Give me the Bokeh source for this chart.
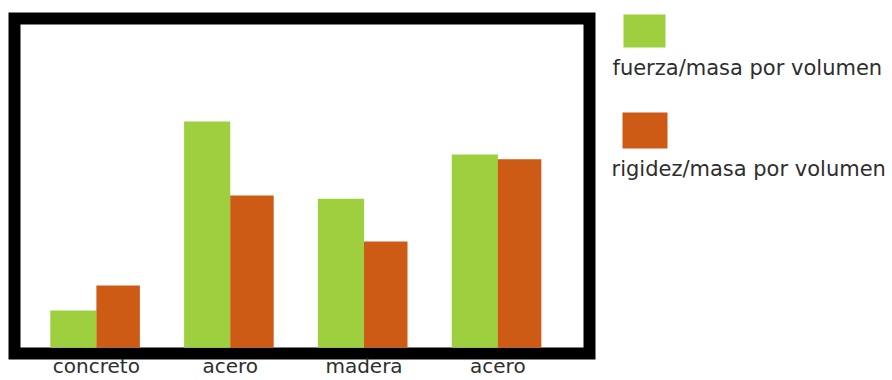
import numpy as np
from bokeh.plotting import figure
from bokeh.models import ColumnDataSource, Range1d, FixedTicker
from bokeh.layouts import row, column
from bokeh.transform import dodge
from bokeh.core.properties import value
from bokeh.embed import file_html
from bokeh.resources import INLINE

categories = ["concreto", "acero", "madera", "acero"]
series_names = ["fuerza/masa por volumen", "rigidez/masa por volumen"]
fuerza = [37.6, 227.6, 150.0, 194.6]
rigidez = [62.6, 153.3, 107.0, 189.6]
colors = ["#9DCF3E", "#CD5B15"]

FONT = "DejaVu Sans"
TEXT_COLOR = "#2e2e2e"

src = ColumnDataSource(dict(x=list(range(len(categories))), fuerza=fuerza, rigidez=rigidez))

x_range = Range1d(-0.612, 3.685)

# main chart with thick black outline around the frame
p = figure(width=600, height=380, x_range=x_range, y_range=Range1d(-5.7, 331.3), title=None,
           output_backend="svg", toolbar_location=None, y_axis_location=None,
           min_border_left=14, min_border_right=11, min_border_top=18, min_border_bottom=25)
p.outline_line_color = "black"
p.outline_line_width = 12
p.outline_line_alpha = 1.0
p.outline_line_join = "miter"
p.grid.visible = False
p.background_fill_color = "white"
p.border_fill_color = "white"

p.vbar(x=dodge("x", -0.172, range=x_range), top="fuerza", bottom=0, width=0.345, source=src,
       fill_color=colors[0], line_color=None)
p.vbar(x=dodge("x", 0.1625, range=x_range), top="rigidez", bottom=0, width=0.325, source=src,
       fill_color=colors[1], line_color=None)

ax = p.xaxis[0]
ax.ticker = FixedTicker(ticks=list(range(len(categories))))
ax.major_label_overrides = {i: c for i, c in enumerate(categories)}
ax.axis_line_color = None
ax.major_tick_line_color = None
ax.minor_tick_line_color = None
ax.major_tick_out = 0
ax.major_tick_in = 0
ax.major_label_standoff = 0
ax.major_label_text_font = FONT
ax.major_label_text_font_size = "20px"
ax.major_label_text_color = TEXT_COLOR

# legend panel
q = figure(width=292, height=380, x_range=Range1d(0, 292), y_range=Range1d(380, 0), title=None,
           output_backend="svg", toolbar_location=None, x_axis_location=None, y_axis_location=None,
           min_border=0)
q.outline_line_color = None
q.grid.visible = False
leg = ColumnDataSource(dict(
    left=[23, 22], right=[65, 67], top=[14, 112], bottom=[47, 148],
    tx=[12, 11], ty=[67, 168], label=series_names, color=colors))
q.quad(left="left", right="right", top="top", bottom="bottom", fill_color="color",
       line_color=None, source=leg)
q.text(x="tx", y="ty", text="label", source=leg, text_font=value(FONT), text_font_size="21px",
       text_baseline="alphabetic", text_align="left", text_color=TEXT_COLOR)

layout = row(column(p), q)
open("out.html", "w").write(file_html(layout, INLINE))
